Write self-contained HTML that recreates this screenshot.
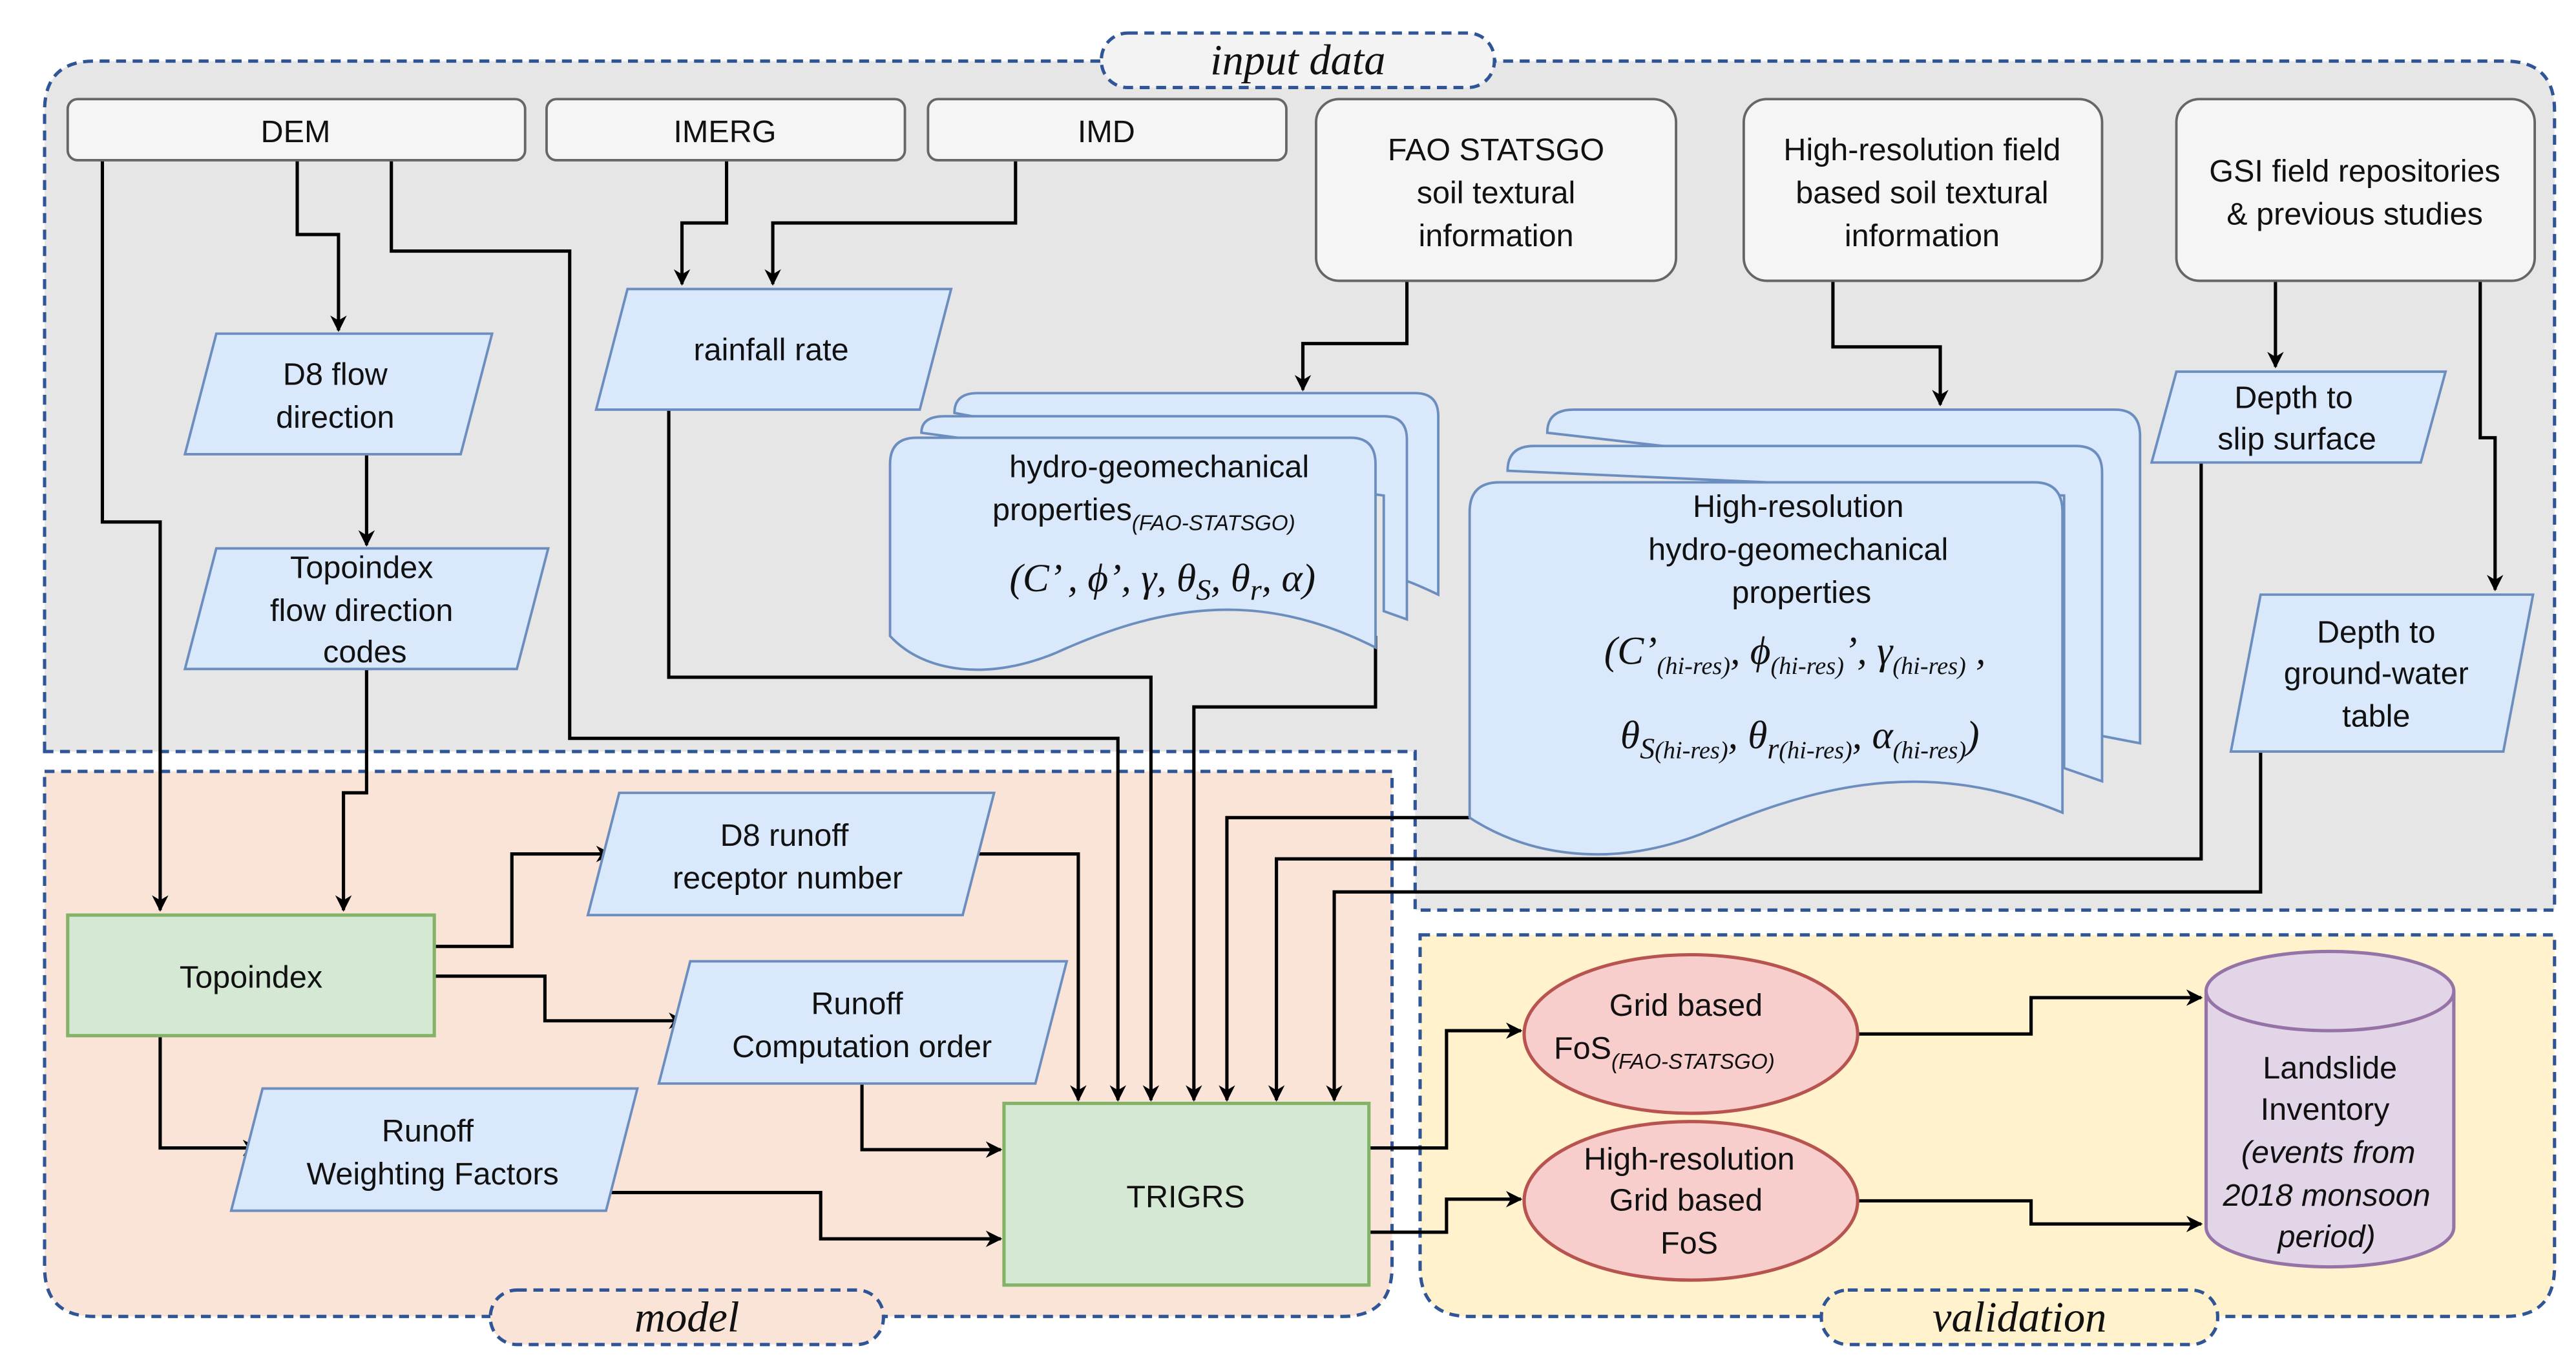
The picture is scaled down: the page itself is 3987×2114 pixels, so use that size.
<!DOCTYPE html>
<html><head><meta charset="utf-8"><style>
html,body{margin:0;padding:0;background:#fff;}
svg{display:block;}
text{font-family:"Liberation Sans",sans-serif;font-size:19px;fill:#111;}
.m{font-family:"Liberation Serif",serif;font-style:italic;font-size:24px;}
.lab{font-family:"Liberation Serif",serif;font-style:italic;font-size:26px;}
</style></head><body>
<svg width="3987" height="2114" viewBox="0 0 1560 827" preserveAspectRatio="none" xmlns="http://www.w3.org/2000/svg">
<defs>
<marker id="a" markerWidth="10" markerHeight="10" refX="9" refY="5" orient="auto" markerUnits="userSpaceOnUse"><path d="M0,0 L10,5 L0,10 L3,5 z" fill="#000"/></marker>
</defs>
<rect width="1560" height="827" fill="#fff"/>
<path d="M27,455 V67 Q27,37 57,37 H1517 Q1547,37 1547,67 V551 H857 V455 Z" fill="#e6e6e6" stroke="#2f5597" stroke-width="2" stroke-dasharray="6,4"/>
<path d="M27,467 H843 V767 Q843,797 813,797 H57 Q27,797 27,767 Z" fill="#fae4d8" stroke="#2f5597" stroke-width="2" stroke-dasharray="6,4"/>
<path d="M860,566 H1547 V767 Q1547,797 1517,797 H890 Q860,797 860,767 Z" fill="#fff2cc" stroke="#2f5597" stroke-width="2" stroke-dasharray="6,4"/>
<rect x="667" y="20" width="238" height="33" rx="16" fill="#f3f3f3" stroke="#2f5597" stroke-width="2" stroke-dasharray="6,4"/>
<text class="lab" x="786" y="45" text-anchor="middle">input data</text>
<rect x="297" y="781" width="238" height="33" rx="16" fill="#fae4d8" stroke="#2f5597" stroke-width="2" stroke-dasharray="6,4"/>
<text class="lab" x="416" y="806" text-anchor="middle">model</text>
<rect x="1103" y="781" width="240" height="33" rx="16" fill="#fff2cc" stroke="#2f5597" stroke-width="2" stroke-dasharray="6,4"/>
<text class="lab" x="1223" y="806" text-anchor="middle">validation</text>

<g fill="none" stroke="#000" stroke-width="2">
<path d="M62,97 V316 H97 V551" marker-end="url(#a)"/>
<path d="M180,97 V142 H205 V200" marker-end="url(#a)"/>
<path d="M237,97 V152 H345 V447 H677 V666" marker-end="url(#a)"/>
<path d="M222,275 V330" marker-end="url(#a)"/>
<path d="M222,405 V480 H208 V551" marker-end="url(#a)"/>
<path d="M440,97 V135 H413 V172" marker-end="url(#a)"/>
<path d="M615,97 V135 H468 V172" marker-end="url(#a)"/>
<path d="M405,248 V410 H697 V666" marker-end="url(#a)"/>
<path d="M833,385 V428 H723 V666" marker-end="url(#a)"/>
<path d="M852,170 V208 H789 V236" marker-end="url(#a)"/>
<path d="M1110,170 V210 H1175 V245" marker-end="url(#a)"/>
<path d="M1378,170 V222" marker-end="url(#a)"/>
<path d="M1502,170 V265 H1511 V357" marker-end="url(#a)"/>
<path d="M890,495 H743 V666" marker-end="url(#a)"/>
<path d="M1333,280 V520 H773 V666" marker-end="url(#a)"/>
<path d="M1369,455 V540 H808 V666" marker-end="url(#a)"/>
<path d="M263,573 H310 V517 H370" marker-end="url(#a)"/>
<path d="M263,591 H330 V618 H414" marker-end="url(#a)"/>
<path d="M97,627 V695 H156" marker-end="url(#a)"/>
<path d="M583,517 H653 V666" marker-end="url(#a)"/>
<path d="M522,656 V696 H606" marker-end="url(#a)"/>
<path d="M356,722 H497 V750 H606" marker-end="url(#a)"/>
<path d="M829,695 H876 V624 H921" marker-end="url(#a)"/>
<path d="M829,746 H876 V726 H921" marker-end="url(#a)"/>
<path d="M1125,626 H1230 V604 H1333" marker-end="url(#a)"/>
<path d="M1125,727 H1230 V741 H1333" marker-end="url(#a)"/>
</g>

<g fill="#f5f5f5" stroke="#666" stroke-width="1.5">
<rect x="41" y="60" width="277" height="37" rx="6"/>
<rect x="331" y="60" width="217" height="37" rx="6"/>
<rect x="562" y="60" width="217" height="37" rx="6"/>
<rect x="797" y="60" width="218" height="110" rx="14"/>
<rect x="1056" y="60" width="217" height="110" rx="14"/>
<rect x="1318" y="60" width="217" height="110" rx="14"/>
</g>
<text x="179" y="86" text-anchor="middle">DEM</text>
<text x="439" y="86" text-anchor="middle">IMERG</text>
<text x="670" y="86" text-anchor="middle">IMD</text>
<text x="906" y="97" text-anchor="middle">FAO STATSGO</text>
<text x="906" y="123" text-anchor="middle">soil textural</text>
<text x="906" y="149" text-anchor="middle">information</text>
<text x="1164" y="97" text-anchor="middle">High-resolution field</text>
<text x="1164" y="123" text-anchor="middle">based soil textural</text>
<text x="1164" y="149" text-anchor="middle">information</text>
<text x="1426" y="110" text-anchor="middle">GSI field repositories</text>
<text x="1426" y="136" text-anchor="middle">&amp; previous studies</text>

<g fill="#dae8fc" stroke="#6c8ebf" stroke-width="1.5">
<polygon points="131,202 298,202 279,275 112,275"/>
<polygon points="131,332 332,332 313,405 112,405"/>
<polygon points="380,175 576,175 557,248 361,248"/>
<polygon points="1318,225 1481,225 1466,280 1303,280"/>
<polygon points="1369,360 1534,360 1516,455 1351,455"/>
<polygon points="375,480 602,480 583,554 356,554"/>
<polygon points="418,582 646,582 627,656 399,656"/>
<polygon points="159,659 386,659 367,733 140,733"/>
</g>
<text x="203" y="233" text-anchor="middle">D8 flow</text>
<text x="203" y="259" text-anchor="middle">direction</text>
<text x="219" y="350" text-anchor="middle">Topoindex</text>
<text x="219" y="376" text-anchor="middle">flow direction</text>
<text x="221" y="401" text-anchor="middle">codes</text>
<text x="467" y="218" text-anchor="middle">rainfall rate</text>
<text x="1389" y="247" text-anchor="middle">Depth to</text>
<text x="1391" y="272" text-anchor="middle">slip surface</text>
<text x="1439" y="389" text-anchor="middle">Depth to</text>
<text x="1439" y="414" text-anchor="middle">ground-water</text>
<text x="1439" y="440" text-anchor="middle">table</text>
<text x="475" y="512" text-anchor="middle">D8 runoff</text>
<text x="477" y="538" text-anchor="middle">receptor number</text>
<text x="519" y="614" text-anchor="middle">Runoff</text>
<text x="522" y="640" text-anchor="middle">Computation order</text>
<text x="259" y="691" text-anchor="middle">Runoff</text>
<text x="262" y="717" text-anchor="middle">Weighting Factors</text>

<g fill="#dae8fc" stroke="#6c8ebf" stroke-width="1.5">
<path d="M578,250 Q578,238 592,238 H857 Q871,238 871,252 V360 Q850,350 845,350 V300 Z"/>
<path d="M558,262 Q558,252 572,252 H838 Q852,252 852,266 V375 L838,370 V300 Z"/>
<path d="M539,281 Q539,265 555,265 H818 Q833,265 833,281 V392 C760,355 700,368 640,395 C600,412 560,408 539,385 Z"/>
<path d="M937,262 Q937,248 953,248 H1281 Q1296,248 1296,264 V450 L1270,445 V300 Z"/>
<path d="M913,285 Q913,270 929,270 H1257 Q1273,270 1273,286 V473 L1250,465 V300 Z"/>
<path d="M890,310 Q890,292 908,292 H1232 Q1249,292 1249,310 V492 C1160,455 1090,480 1030,505 C970,528 920,515 890,495 Z"/>
</g>
<text x="702" y="289" text-anchor="middle">hydro-geomechanical</text>
<text x="601" y="315">properties<tspan font-size="13" font-style="italic" dy="6">(FAO-STATSGO)</tspan></text>
<text class="m" x="704" y="358" text-anchor="middle">(C’ , ϕ’, γ, θ<tspan font-size="18" dy="5">S</tspan><tspan dy="-5">, θ</tspan><tspan font-size="18" dy="5">r</tspan><tspan dy="-5">, α)</tspan></text>
<text x="1089" y="313" text-anchor="middle">High-resolution</text>
<text x="1089" y="339" text-anchor="middle">hydro-geomechanical</text>
<text x="1091" y="365" text-anchor="middle">properties</text>
<text class="m" x="1087" y="402" text-anchor="middle">(C’<tspan font-size="15" dy="6">(hi-res)</tspan><tspan dy="-6">, ϕ</tspan><tspan font-size="15" dy="6">(hi-res)</tspan><tspan dy="-6">’, γ</tspan><tspan font-size="15" dy="6">(hi-res)</tspan><tspan dy="-6"> ,</tspan></text>
<text class="m" x="1090" y="453" text-anchor="middle">θ<tspan font-size="18" dy="6">S</tspan><tspan font-size="15">(hi-res)</tspan><tspan dy="-6">, θ</tspan><tspan font-size="18" dy="6">r</tspan><tspan font-size="15">(hi-res)</tspan><tspan dy="-6">, α</tspan><tspan font-size="15" dy="6">(hi-res)</tspan><tspan dy="-6">)</tspan></text>

<g fill="#d5e8d4" stroke="#82b366" stroke-width="2">
<rect x="41" y="554" width="222" height="73"/>
<rect x="608" y="668" width="221" height="110"/>
</g>
<text x="152" y="598" text-anchor="middle">Topoindex</text>
<text x="718" y="731" text-anchor="middle">TRIGRS</text>

<g fill="#f8cecc" stroke="#b85450" stroke-width="2">
<ellipse cx="1024" cy="626" rx="101" ry="48"/>
<ellipse cx="1024" cy="727" rx="101" ry="48"/>
</g>
<text x="1021" y="615" text-anchor="middle">Grid based</text>
<text x="941" y="641">FoS<tspan font-size="13" font-style="italic" dy="6">(FAO-STATSGO)</tspan></text>
<text x="1023" y="708" text-anchor="middle">High-resolution</text>
<text x="1021" y="733" text-anchor="middle">Grid based</text>
<text x="1023" y="759" text-anchor="middle">FoS</text>

<path d="M1336,600 V743 A75,24 0 0 0 1486,743 V600" fill="#e1d5e7" stroke="#9673a6" stroke-width="2"/>
<ellipse cx="1411" cy="600" rx="75" ry="24" fill="#e1d5e7" stroke="#9673a6" stroke-width="2"/>
<text x="1411" y="653" text-anchor="middle">Landslide</text>
<text x="1408" y="678" text-anchor="middle">Inventory</text>
<text x="1410" y="704" text-anchor="middle" font-size="17" font-style="italic">(events from</text>
<text x="1409" y="730" text-anchor="middle" font-size="17" font-style="italic">2018 monsoon</text>
<text x="1409" y="755" text-anchor="middle" font-size="17" font-style="italic">period)</text>
</svg>
</body></html>
